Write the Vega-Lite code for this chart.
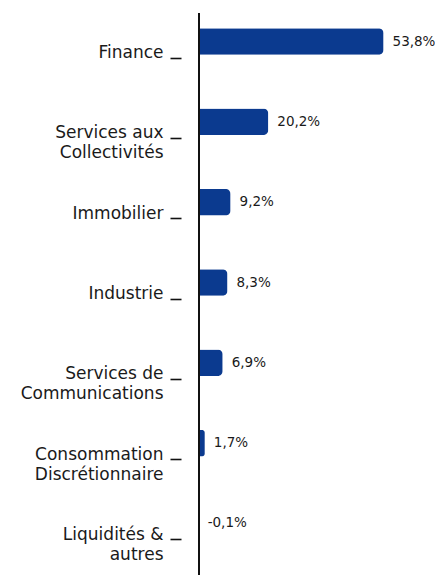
{
  "$schema": "https://vega.github.io/schema/vega-lite/v6.json",
  "width": 236,
  "height": 562,
  "autosize": {"type": "none"},
  "padding": {"left": 199, "top": 13, "right": 0, "bottom": 0},
  "background": "white",
  "config": {"view": {"stroke": null}, "font": "DejaVu Sans"},
  "data": {
    "values": [
      {"secteur": "Finance", "poids": 53.8},
      {"secteur": "Services aux|Collectivités", "poids": 20.2},
      {"secteur": "Immobilier", "poids": 9.2},
      {"secteur": "Industrie", "poids": 8.3},
      {"secteur": "Services de|Communications", "poids": 6.9},
      {"secteur": "Consommation|Discrétionnaire", "poids": 1.7},
      {"secteur": "Liquidités &|autres", "poids": -0.1}
    ]
  },
  "transform": [
    {"calculate": "replace(replace(format(datum.poids, '.1f'), '.', ','), '\u2212', '-') + '%'", "as": "texte"}
  ],
  "encoding": {
    "y": {
      "field": "secteur",
      "type": "nominal",
      "sort": null,
      "scale": {"paddingInner": 0.67, "paddingOuter": 0.19, "range": [0, 539]},
      "axis": {
        "title": null,
        "domain": false,
        "offset": 18,
        "tickSize": 11,
        "tickWidth": 1.6,
        "tickColor": "#111111",
        "tickOffset": 16,
        "labelBaseline": "alphabetic",
        "labelPadding": 7,
        "labelFont": "DejaVu Sans",
        "labelFontSize": 17,
        "labelColor": "#1a1a1a",
        "labelLineHeight": 20,
        "labelLimit": 300,
        "labelExpr": "split(datum.label, '|')"
      }
    }
  },
  "layer": [
    {
      "mark": {"type": "bar", "color": "#0b3a8f", "cornerRadiusEnd": 5},
      "encoding": {
        "x": {"field": "poids", "type": "quantitative", "scale": {"domain": [0, 68.8], "nice": false}, "axis": null}
      }
    },
    {
      "mark": {"type": "text", "align": "left", "baseline": "middle", "dx": 9, "fontSize": 13.5, "color": "#1a1a1a", "font": "DejaVu Sans"},
      "encoding": {
        "x": {"field": "poids", "type": "quantitative"},
        "text": {"field": "texte"}
      }
    },
    {
      "data": {"values": [{"zero": 0}]},
      "mark": {"type": "rule", "color": "#111111", "strokeWidth": 2},
      "encoding": {"x": {"field": "zero", "type": "quantitative"}, "y": null}
    }
  ]
}
